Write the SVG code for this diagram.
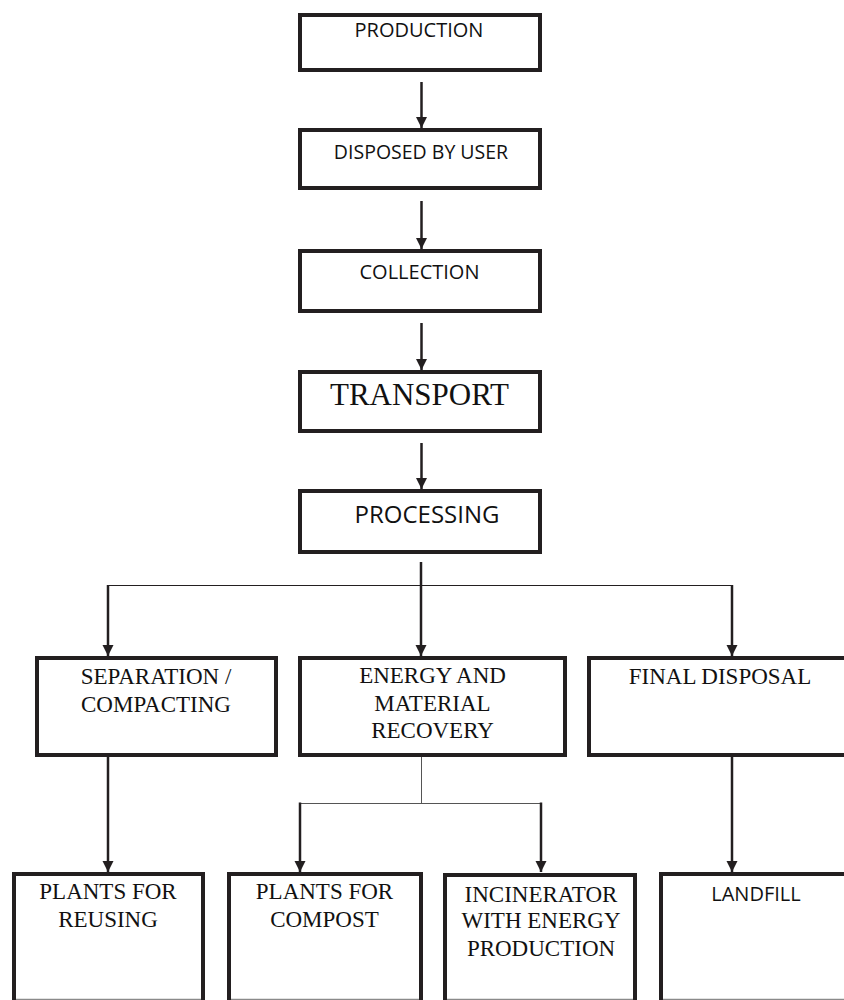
<svg xmlns="http://www.w3.org/2000/svg" width="844" height="1000" viewBox="0 0 844 1000">
  <defs>
    <marker id="arrow" markerUnits="userSpaceOnUse" markerWidth="12" markerHeight="12" viewBox="0 0 12 12" refX="11" refY="6" orient="auto">
      <path d="M0,0.5 L11,6 L0,11.5 Z" fill="#231f20"/>
    </marker>
    <style>
      .box { fill: #ffffff; stroke: #231f20; stroke-width: 4; }
      .base { stroke: #8a8a8a; stroke-width: 1.2; }
      .sans { font-family: "Open Sans", "Noto Sans", sans-serif; font-size: 20px; fill: #111111; text-anchor: middle; }
      .serif { font-family: "Liberation Serif", "Times New Roman", serif; font-size: 23px; fill: #111111; text-anchor: middle; }
      .flow { stroke: #231f20; stroke-width: 2.5; fill: none; }
      .split { stroke: #231f20; stroke-width: 1.2; fill: none; }
      .splitgrey { stroke: #555555; stroke-width: 1; fill: none; }
    </style>
  </defs>
  <rect width="844" height="1000" fill="#ffffff"/>

  <!-- connectors -->
  <g id="connectors">
    <line class="flow" x1="421.5" y1="82" x2="421.5" y2="128" marker-end="url(#arrow)"/>
    <line class="flow" x1="421.5" y1="201" x2="421.5" y2="249" marker-end="url(#arrow)"/>
    <line class="flow" x1="421.5" y1="323" x2="421.5" y2="370" marker-end="url(#arrow)"/>
    <line class="flow" x1="421.5" y1="443" x2="421.5" y2="489" marker-end="url(#arrow)"/>
    <!-- processing splits three ways -->
    <line class="split" x1="108" y1="585.5" x2="732" y2="585.5"/>
    <line class="flow" x1="421" y1="562" x2="421" y2="656" marker-end="url(#arrow)"/>
    <line class="flow" x1="108" y1="585" x2="108" y2="656" marker-end="url(#arrow)"/>
    <line class="flow" x1="732" y1="585" x2="732" y2="656" marker-end="url(#arrow)"/>
    <!-- second tier -->
    <line class="flow" x1="108" y1="757" x2="108" y2="872" marker-end="url(#arrow)"/>
    <line class="splitgrey" x1="421.5" y1="757" x2="421.5" y2="803.5"/>
    <line class="splitgrey" x1="300" y1="803.5" x2="541" y2="803.5"/>
    <line class="flow" x1="300" y1="802.5" x2="300" y2="872" marker-end="url(#arrow)"/>
    <line class="flow" x1="541" y1="802.5" x2="541" y2="872" marker-end="url(#arrow)"/>
    <line class="flow" x1="732" y1="757" x2="732" y2="872" marker-end="url(#arrow)"/>
  </g>

  <g id="production">
    <rect class="box" x="300" y="15" width="240" height="55"/>
    <text class="sans" x="419" y="37">PRODUCTION</text>
  </g>
  <g id="disposed">
    <rect class="box" x="300" y="130" width="240" height="58"/>
    <text class="sans" x="421" y="159" style="font-size:19.5px">DISPOSED BY USER</text>
  </g>
  <g id="collection">
    <rect class="box" x="300" y="251" width="240" height="60"/>
    <text class="sans" x="419.5" y="279">COLLECTION</text>
  </g>
  <g id="transport">
    <rect class="box" x="300" y="372" width="240" height="59"/>
    <text class="serif" x="419.5" y="405" style="font-size:31px">TRANSPORT</text>
  </g>
  <g id="processing">
    <rect class="box" x="300" y="491" width="240" height="61"/>
    <text class="sans" x="427" y="523" style="font-size:24px">PROCESSING</text>
  </g>

  <g id="separation">
    <rect class="box" x="37" y="658" width="239" height="97"/>
    <text class="serif" x="156" y="684">SEPARATION /</text>
    <text class="serif" x="156" y="712">COMPACTING</text>
  </g>
  <g id="recovery">
    <rect class="box" x="300" y="658" width="265" height="97"/>
    <text class="serif" x="432.5" y="683">ENERGY AND</text>
    <text class="serif" x="432.5" y="711">MATERIAL</text>
    <text class="serif" x="432.5" y="738">RECOVERY</text>
  </g>
  <g id="final-disposal">
    <rect class="box" x="589" y="658" width="262" height="97"/>
    <text class="serif" x="720" y="684">FINAL DISPOSAL</text>
  </g>

  <g id="reusing">
    <rect class="box" x="14" y="874" width="189" height="140"/>
    <line class="base" x1="16" y1="999.4" x2="201" y2="999.4"/>
    <text class="serif" x="108" y="899">PLANTS FOR</text>
    <text class="serif" x="108" y="927">REUSING</text>
  </g>
  <g id="compost">
    <rect class="box" x="229" y="874" width="192" height="140"/>
    <line class="base" x1="231" y1="999.4" x2="419" y2="999.4"/>
    <text class="serif" x="324.5" y="899">PLANTS FOR</text>
    <text class="serif" x="324.5" y="927">COMPOST</text>
  </g>
  <g id="incinerator">
    <rect class="box" x="445" y="875" width="190" height="140"/>
    <line class="base" x1="447" y1="999.4" x2="633" y2="999.4"/>
    <text class="serif" x="541" y="902">INCINERATOR</text>
    <text class="serif" x="541" y="928">WITH ENERGY</text>
    <text class="serif" x="541" y="956">PRODUCTION</text>
  </g>
  <g id="landfill">
    <rect class="box" x="661" y="874" width="192" height="140"/>
    <line class="base" x1="663" y1="999.4" x2="844" y2="999.4"/>
    <text class="sans" x="756" y="901">LANDFILL</text>
  </g>
</svg>
